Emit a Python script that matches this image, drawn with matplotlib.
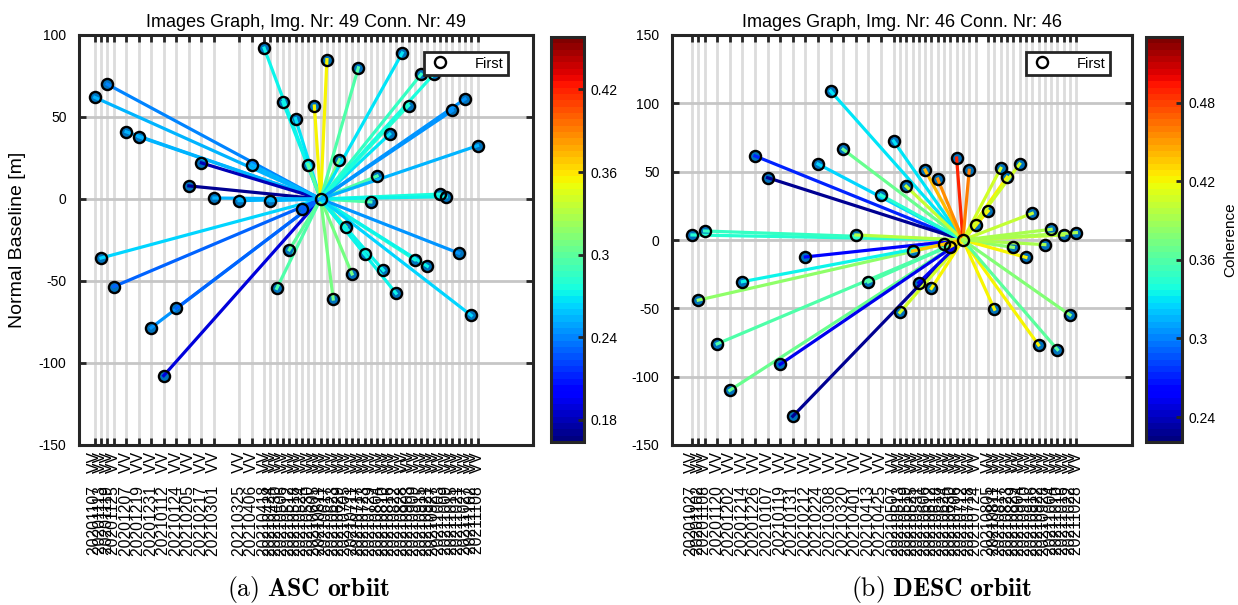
import numpy as np
import pandas as pd
import matplotlib
matplotlib.use("Agg")
import matplotlib.pyplot as plt
import matplotlib.dates as mdates
from matplotlib.colors import Normalize
from matplotlib.cm import ScalarMappable

plt.rcParams['font.family'] = ['Liberation Sans', 'DejaVu Sans']
plt.rcParams['mathtext.fontset'] = 'cm'

# ---- ASC orbit ----
asc_dates = ['20201107', '20201113', '20201119', '20201125', '20201207', '20201219', '20201231',
             '20210112', '20210124', '20210205', '20210217', '20210301', '20210325', '20210406',
             '20210418', '20210424', '20210430', '20210506', '20210512', '20210518', '20210524',
             '20210530', '20210605', '20210611', '20210617', '20210623', '20210629', '20210705',
             '20210711', '20210717', '20210723', '20210729', '20210804', '20210810', '20210816',
             '20210822', '20210828', '20210903', '20210909', '20210915', '20210921', '20210927',
             '20211003', '20211009', '20211015', '20211021', '20211027', '20211102', '20211108']
asc_bperp = [62, -36, 70, -53.5, 41, 38, -78.5, -107.7, -66.7, 8, 22, 0.6, -1, 21,
             92, -1, -54.5, 59, -31, 49, -6, 21, 56.7, 0, 85, -61, 24, -17,
             -45.7, 80, -33.5, -1.8, 14, -43.5, 39.6, -57.5, 89, 57, -37, 76, -41, 76,
             3, 1.4, 54, -33, 61, -71, 32.5]
asc_coh = [0.252, 0.261, 0.238, 0.232, 0.252, 0.255, 0.243, 0.188, 0.232, 0.173,
           0.182, 0.252, 0.252, 0.252, 0.270, 0.255, 0.296, 0.273, 0.299, 0.267,
           0.232, 0.300, 0.355, np.nan, 0.355, 0.311, 0.311, 0.335, 0.311, 0.296,
           0.282, 0.296, 0.296, 0.273, 0.267, 0.270, 0.267, 0.282, 0.279, 0.287,
           0.273, 0.276, 0.276, 0.273, 0.243, 0.243, 0.246, 0.261, 0.255]
asc_master = '20210611'
asc_clim = (0.164, 0.458)
asc_cticks = [0.18, 0.24, 0.3, 0.36, 0.42]
asc_xlim = ('20201023', '20211231')
asc_yticks = [-150, -100, -50, 0, 50, 100]

# ---- DESC orbit ----
desc_dates = ['20201027', '20201102', '20201108', '20201120', '20201202', '20201214', '20201226',
              '20210107', '20210119', '20210131', '20210212', '20210224', '20210308', '20210320',
              '20210401', '20210413', '20210425', '20210507', '20210513', '20210519', '20210525',
              '20210531', '20210606', '20210612', '20210618', '20210624', '20210630', '20210706',
              '20210712', '20210718', '20210724', '20210805', '20210811', '20210817', '20210823',
              '20210829', '20210904', '20210910', '20210916', '20210922', '20210928', '20211004',
              '20211010', '20211016', '20211022', '20211028']
desc_bperp = [3.7, -44, 6.6, -76, -110, -30.5, 61.5, 45.6, -91, -129, -12.4, 55.6, 109, 66.3,
              3.7, -30.7, 32.9, 72.4, -53, 39.3, -8, -31.2, 51.2, -35.4, 44.6, -3.2, -4.9, 60,
              0, 51, 11, 21.2, -50.7, 52.4, 46, -5.4, 55.6, -12.7, 19.5, -76.8, -3.4, 7.8,
              -80.2, 3.7, -54.9, 5.4]
desc_coh = [0.345, 0.382, 0.351, 0.357, 0.369, 0.335, 0.270, 0.230, 0.252, 0.227,
            0.261, 0.326, 0.332, 0.369, 0.397, 0.360, 0.342, 0.332, 0.406, 0.400,
            0.437, 0.252, 0.443, 0.422, 0.453, 0.437, 0.425, 0.490, np.nan, 0.462,
            0.431, 0.422, 0.422, 0.406, 0.422, 0.382, 0.406, 0.419, 0.400, 0.422,
            0.391, 0.391, 0.363, 0.400, 0.376, 0.391]
desc_master = '20210712'
desc_clim = (0.221, 0.530)
desc_cticks = [0.24, 0.3, 0.36, 0.42, 0.48]
desc_xlim = ('20201008', '20211220')
desc_yticks = [-150, -100, -50, 0, 50, 100, 150]

cmap = plt.get_cmap('jet', 64)
dark = '#262626'


def draw(ax, cax, dates, bperp, coh, master, clim, cticks, xlim, yticks):
    x = mdates.date2num(pd.to_datetime(dates, format='%Y%m%d'))
    y = np.array(bperp, dtype=float)
    c = np.array(coh, dtype=float)
    i0 = dates.index(master)
    norm = Normalize(*clim)
    others = np.arange(len(x)) != i0

    # blue dots, coherence-coloured links to the master, then black rims
    ax.plot(x[others], y[others], 'o', ms=8, mfc='#0072BD', mec='none', zorder=2)
    for i in np.where(others)[0]:
        ax.plot([x[i0], x[i]], [y[i0], y[i]], color=cmap(norm(c[i])), lw=2.3, zorder=3)
    ax.plot(x[others], y[others], 'o', ms=8, mfc='none', mec='k', mew=1.7, zorder=4)
    ax.plot(x[i0], y[i0], 'o', ms=8, mfc='none', mec='k', mew=1.7, zorder=5, label='First')

    xl = mdates.date2num(pd.to_datetime(list(xlim), format='%Y%m%d'))
    ax.set_xlim(xl)
    ax.set_ylim(yticks[0], yticks[-1])
    ax.set_xticks(x)
    ax.set_xticklabels([d + '   VV' for d in dates], rotation=90, fontsize=11.3)
    ax.set_yticks(yticks)
    ax.set_yticklabels([str(t) for t in yticks], fontsize=10)
    ax.set_axisbelow(True)
    ax.grid(axis='x', color='#dcdcdc', lw=2)
    ax.grid(axis='y', color='#c6c6c6', lw=2)
    ax.tick_params(direction='in', length=5, width=2, top=True, right=True, color=dark)
    ax.tick_params(axis='x', pad=5)
    ax.tick_params(axis='y', pad=9)
    for s in ax.spines.values():
        s.set_linewidth(2.2)
        s.set_color(dark)

    cb = plt.colorbar(ScalarMappable(norm=norm, cmap=cmap), cax=cax)
    cb.set_ticks(cticks)
    cb.set_ticklabels([f'{t:g}' for t in cticks])
    cax.tick_params(direction='in', length=4, width=2, color=dark, labelsize=10, pad=5)
    cb.outline.set_linewidth(2.2)
    cb.outline.set_edgecolor(dark)
    return cb


fig = plt.figure(figsize=(12.38, 6.05), dpi=100)
ax1 = fig.add_axes([79 / 1238, 160 / 605, 454 / 1238, 410 / 605])
cax1 = fig.add_axes([551 / 1238, 163 / 605, 33 / 1238, 405 / 605])
ax2 = fig.add_axes([672 / 1238, 160 / 605, 460 / 1238, 410 / 605])
cax2 = fig.add_axes([1146 / 1238, 163 / 605, 36 / 1238, 405 / 605])

draw(ax1, cax1, asc_dates, asc_bperp, asc_coh, asc_master, asc_clim, asc_cticks, asc_xlim, asc_yticks)
cb2 = draw(ax2, cax2, desc_dates, desc_bperp, desc_coh, desc_master, desc_clim, desc_cticks,
           desc_xlim, desc_yticks)

ax1.set_title('Images Graph, Img. Nr: 49 Conn. Nr: 49', fontsize=13, pad=6)
ax2.set_title('Images Graph, Img. Nr: 46 Conn. Nr: 46', fontsize=13, pad=6)
ax1.set_ylabel('Normal Baseline [m]', fontsize=14, va='center')
ax1.yaxis.set_label_coords(-0.136, 0.5)
cb2.set_label('Coherence', fontsize=11, labelpad=5)

for ax, xr in [(ax1, 0.945), (ax2, 0.952)]:
    leg = ax.legend(loc='upper right', bbox_to_anchor=(xr, 0.958), borderaxespad=0,
                    fancybox=False, fontsize=10.5, handlelength=1.6, handletextpad=1.6,
                    borderpad=0.3, framealpha=1)
    leg.get_frame().set_edgecolor(dark)
    leg.get_frame().set_linewidth(2)

fig.text(0.2492, 0.026, r'$\mathrm{(a)}\ \mathbf{ASC\ orbiit}$', ha='center', va='center', fontsize=18.5)
fig.text(0.761, 0.026, r'$\mathrm{(b)}\ \mathbf{DESC\ orbiit}$', ha='center', va='center', fontsize=18.5)

fig.savefig('out.png', dpi=100)
